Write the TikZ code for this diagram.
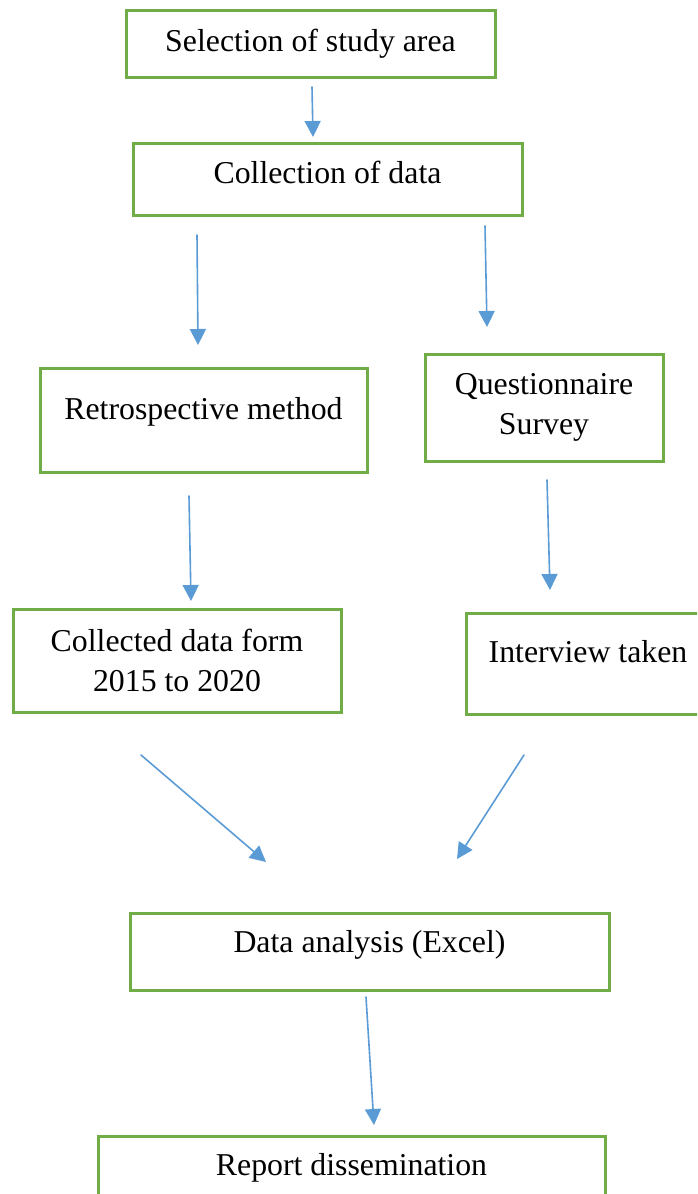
\documentclass[tikz,border=0pt]{standalone}
\usepackage{fontspec}
\setmainfont{Liberation Serif}
\usepackage{tikz}
\usepackage{tkz-euclide}
\usetikzlibrary{arrows.meta}
\definecolor{boxgreen}{HTML}{70AD47}
\definecolor{flowblue}{HTML}{5B9BD5}

\begin{document}
\begin{tikzpicture}[x=0.5pt,y=-0.5pt,
    box/.style={draw=boxgreen,line width=1.5pt,inner sep=0pt,align=center,
      font=\fontsize{15.9}{20}\selectfont},
    lift/.style={text height=11pt,text depth=#1},
    flow/.style={draw=flowblue,line width=0.8pt,
      -{Triangle[length=8pt,width=8pt]}}]
    \useasboundingbox (0,0) rectangle (697,1194);
    \clip (0,0) rectangle (697,1194);
    \node[box,minimum width=184.5pt,minimum height=33.5pt] (sel) at (310.5,43.5) {Selection of study area};
    \node[box,lift=7pt,minimum width=194.5pt,minimum height=36pt] (coll) at (327.5,179) {Collection of data};
    \node[box,lift=12pt,minimum width=163.5pt,minimum height=52pt] (retro) at (203.5,420) {Retrospective method};
    \node[box,minimum width=119pt,minimum height=53.5pt] (quest) at (544,407.5) {Questionnaire\\Survey};
    \node[box,minimum width=164pt,minimum height=51.5pt] (colld) at (177,660.5) {Collected data form\\2015 to 2020};
    \node[box,lift=12pt,minimum width=122pt,minimum height=50.5pt] (interv) at (588,663.5) {Interview taken};
    \node[box,lift=10.5pt,minimum width=239.5pt,minimum height=38.5pt] (anal) at (369.5,951.5) {Data analysis (Excel)};
    \node[box,lift=12pt,minimum width=253.5pt,minimum height=40pt] (report) at (351.5,1176) {Report dissemination};
    % arrow ends
    \tkzDefPoints{312/87/s1,313/137/s2,197/235/r1,198/345/r2,485/226/q1,487/327/q2}
    \tkzDefPoints{189/496/c1,191/601/c2,547/480/i1,550/590/i2}
    \tkzDefPoints{141/755/a1,266/862/a2,524/755/b1,457/859/b2,366/997/d1,374/1125/d2}
    \tkzDrawSegments[flow](s1,s2 r1,r2 q1,q2 c1,c2 i1,i2 a1,a2 b1,b2 d1,d2)
\end{tikzpicture}
\end{document}
